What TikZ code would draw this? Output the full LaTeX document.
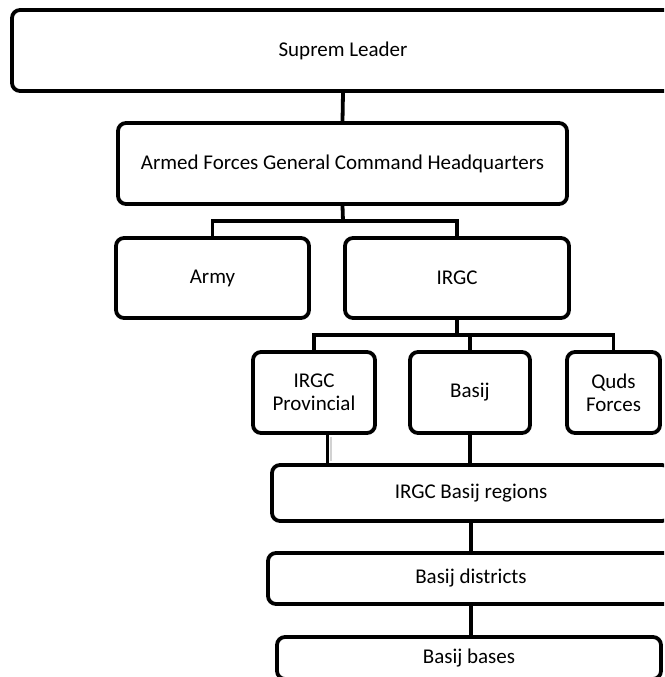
\documentclass[tikz,border=0pt]{standalone}
\usepackage{fontspec}
\setmainfont{Carlito}
\begin{document}
\begin{tikzpicture}[x=1pt,y=-1pt,
  box/.style={draw=black, line width=3.8pt, rounded corners=8pt, fill=white,
    align=center, inner sep=0pt, font=\fontsize{21}{23}\selectfont},
  link/.style={draw=black, line width=3.8pt}]
\useasboundingbox (0,0) rectangle (664,677);
\fill[white] (0,0) rectangle (664,677);
\clip (0,0) rectangle (664,677);
% nodes
\node[box, minimum width=662pt, minimum height=81pt] (leader) at (343,50.5) {Suprem Leader};
\node[box, minimum width=449pt, minimum height=81pt] (hq) at (342.5,163.5) {Armed Forces General Command Headquarters};
\node[box, minimum width=193pt, minimum height=80pt] (army) at (212.5,278) {Army};
\node[box, minimum width=224pt, minimum height=80pt] (irgc) at (457,278) {IRGC};
\node[box, minimum width=122pt, minimum height=81pt] (prov) at (314,392.5) {IRGC\\Provincial};
\node[box, minimum width=120pt, minimum height=81pt] (basij) at (470,392.5) {Basij};
\node[box, minimum width=93pt, minimum height=81pt] (quds) at (613.5,392.5) {Quds\\Forces};
\node[box, minimum width=398pt, minimum height=56pt] (regions) at (471,493) {IRGC Basij regions};
\node[box, minimum width=406pt, minimum height=51pt] (districts) at (471,578.5) {Basij districts};
\node[box, minimum width=384pt, minimum height=42pt] (bases) at (469,658) {Basij bases};
% connectors
\coordinate (b1) at (343,221);
\coordinate (b2) at (457,335);
\draw[link] (leader.south) -- (hq.north);
\draw[link] (hq.south) -- (b1);
\draw[link] (army.north) |- (b1) -| (irgc.north);
\draw[link] (irgc.south) -- (irgc.south |- b2);
\draw[link] (prov.north) |- (b2) -| (quds.north);
\draw[link] (basij.north) -- (basij.north |- b2);
\draw[gray!35, line width=2pt] ([xshift=16.5pt, yshift=-2pt]prov.south) -- ([xshift=16.5pt, yshift=2pt]prov.south |- regions.north);
\draw[link] ([xshift=13.5pt]prov.south) -- ([xshift=13.5pt]prov.south |- regions.north);
\draw[link] (basij.south) -- (basij.south |- regions.north);
\draw[link] (regions.south) -- (districts.north);
\draw[link] (districts.south) -- (districts.south |- bases.north);
\end{tikzpicture}
\end{document}
